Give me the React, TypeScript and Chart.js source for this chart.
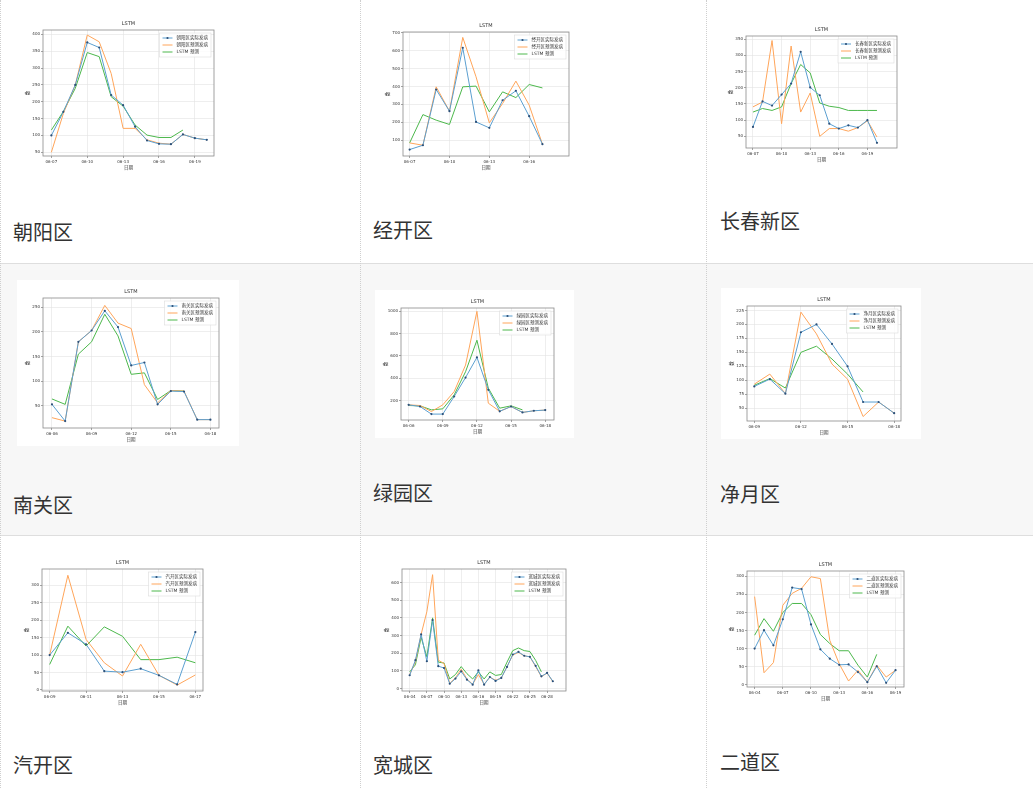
import React, { useEffect, useRef } from 'react';
import { Chart, registerables } from 'chart.js';

Chart.register(...registerables);

// ---------------- data ----------------
const cyDates = ['06-07','06-08','06-09','06-10','06-11','06-12','06-13','06-14','06-15','06-16','06-17','06-18','06-19','06-20'];
const cyActual = [100,170,250,376,361,220,190,126,85,75,74,103,92,87];
const cyPred = [50,165,250,398,378,284,121,121,87,77,74,103,92,87];
const cyLstm = [116,171,240,346,334,215,187,131,101,94,94,116,null,null];
const cyYTicks = [50,100,150,200,250,300,350,400];

const jkDates = ['06-07','06-08','06-09','06-10','06-11','06-12','06-13','06-14','06-15','06-16','06-17'];
const jkActual = [48,72,383,262,616,202,169,323,376,234,78];
const jkPred = [85,72,398,262,674,454,197,305,430,296,78];
const jkLstm = [85,243,212,188,398,402,258,370,338,411,392];
const jkYTicks = [100,200,300,400,500,600,700];

const ccDates = ['06-07','06-08','06-09','06-10','06-11','06-12','06-13','06-14','06-15','06-16','06-17','06-18','06-19','06-20'];
const ccActual = [79,158,145,179,213,311,201,177,89,74,84,77,100,30];
const ccPred = [141,156,346,89,329,125,184,50,74,74,66,77,98,48];
const ccLstm = [125,136,130,141,213,272,246,153,143,139,130,130,130,130];
const ccYTicks = [50,100,150,200,250,300,350];

const ngDates = ['06-06','06-07','06-08','06-09','06-10','06-11','06-12','06-13','06-14','06-15','06-16','06-17','06-18'];
const ngActual = [53,19,180,203,243,210,132,138,53,80,79,22,22];
const ngPred = [26,19,180,203,254,218,207,93,56,81,80,22,22];
const ngLstm = [64,53,155,180,236,192,114,117,63,81,80,null,null];
const ngYTicks = [50,100,150,200,250];

const lyDates = ['06-06','06-07','06-08','06-09','06-10','06-11','06-12','06-13','06-14','06-15','06-16','06-17','06-18'];
const lyActual = [161,146,78,78,236,406,587,296,103,146,93,108,114];
const lyPred = [161,155,101,161,280,518,1000,176,103,146,93,108,114];
const lyLstm = [155,152,116,125,250,458,741,311,131,152,116,null,null];
const lyYTicks = [200,400,600,800,1000];

const jyDates = ['06-09','06-10','06-11','06-12','06-13','06-14','06-15','06-16','06-17','06-18'];
const jyActual = [89,102,76,186,200,165,125,61,61,41];
const jyPred = [93,111,76,222,183,129,102,35,61,41];
const jyLstm = [91,103,86,150,161,138,111,79,null,null];
const jyYTicks = [50,75,100,125,150,175,200,225];

const qkDates = ['06-09','06-10','06-11','06-12','06-13','06-14','06-15','06-16','06-17'];
const qkActual = [100,164,131,54,51,61,42,16,166];
const qkPred = [100,329,145,78,40,131,42,14,43];
const qkLstm = [73,183,126,181,154,87,87,94,78];
const qkYTicks = [0,50,100,150,200,250,300];

const kcDates = ['06-04','06-05','06-06','06-07','06-08','06-09','06-10','06-11','06-12','06-13','06-14','06-15','06-16','06-17','06-18','06-19','06-20','06-21','06-22','06-23','06-24','06-25','06-26','06-27','06-28','06-29'];
const kcActual = [76,161,307,155,388,127,117,28,57,98,51,23,104,23,66,44,61,123,193,208,186,180,129,70,89,42];
const kcPred = [80,152,307,435,644,161,142,30,62,110,55,25,80,25,65,48,60,125,190,205,185,180,125,68,88,40];
const kcLstm = [95,135,290,180,400,150,145,55,80,125,85,55,95,55,95,75,80,150,215,230,215,210,160,95,null,null];
const kcYTicks = [0,100,200,300,400,500,600];

const edDates = ['06-04','06-05','06-06','06-07','06-08','06-09','06-10','06-11','06-12','06-13','06-14','06-15','06-16','06-17','06-18','06-19'];
const edActual = [100,151,109,181,269,265,167,98,72,55,56,35,7,51,5,40];
const edPred = [244,33,61,220,253,267,299,294,123,58,10,40,7,54,21,40];
const edLstm = [137,183,148,200,225,225,194,139,114,94,94,54,21,84,null,null];
const edYTicks = [0,50,100,150,200,250,300];

// ---------------- panels (data refs + layout) ----------------
type Panel = {
  name: string; dates: string[]; actual: (number|null)[]; pred: (number|null)[]; lstm: (number|null)[];
  yTicks: number[]; xTickIdx: number[]; xRange: [number, number]; yRange: [number, number];
  plot: [number, number, number, number]; caption: [number, number];
};

const PANELS: Panel[] = [
  { name: '朝阳区', dates: cyDates, actual: cyActual, pred: cyPred, lstm: cyLstm, yTicks: cyYTicks, xTickIdx: [0,3,6,9,12], xRange: [-0.7, 13.6], yRange: [39, 413], plot: [43,30,214,156], caption: [13,233] },
  { name: '经开区', dates: jkDates, actual: jkActual, pred: jkPred, lstm: jkLstm, yTicks: jkYTicks, xTickIdx: [0,3,6,9], xRange: [-0.5, 12.0], yRange: [12, 704], plot: [403,32,569,156], caption: [373,231] },
  { name: '长春新区', dates: ccDates, actual: ccActual, pred: ccPred, lstm: ccLstm, yTicks: ccYTicks, xTickIdx: [0,3,6,9,12], xRange: [-0.73, 15.1], yRange: [14, 360], plot: [746,36,897,148], caption: [720,222] },
  { name: '南关区', dates: ngDates, actual: ngActual, pred: ngPred, lstm: ngLstm, yTicks: ngYTicks, xTickIdx: [0,3,6,9,12], xRange: [-0.68, 12.65], yRange: [5, 269], plot: [43,298,219,428], caption: [13,506] },
  { name: '绿园区', dates: lyDates, actual: lyActual, pred: lyPred, lstm: lyLstm, yTicks: lyYTicks, xTickIdx: [0,3,6,9,12], xRange: [-0.67, 12.77], yRange: [25, 1030], plot: [401,308,554,420], caption: [373,494] },
  { name: '净月区', dates: jyDates, actual: jyActual, pred: jyPred, lstm: jyLstm, yTicks: jyYTicks, xTickIdx: [0,3,6,9], xRange: [-0.47, 9.44], yRange: [27, 233], plot: [747,306,901,421], caption: [720,495] },
  { name: '汽开区', dates: qkDates, actual: qkActual, pred: qkPred, lstm: qkLstm, yTicks: qkYTicks, xTickIdx: [0,2,4,6,8], xRange: [-0.42, 8.42], yRange: [-3, 347], plot: [42,569,203,691], caption: [13,766] },
  { name: '宽城区', dates: kcDates, actual: kcActual, pred: kcPred, lstm: kcLstm, yTicks: kcYTicks, xTickIdx: [0,3,6,9,12,15,18,21,24], xRange: [-1.34, 27.3], yRange: [-13, 676], plot: [402,569,566,691], caption: [373,766] },
  { name: '二道区', dates: edDates, actual: edActual, pred: edPred, lstm: edLstm, yTicks: edYTicks, xTickIdx: [0,3,6,9,12,15], xRange: [-0.81, 15.9], yRange: [-6.5, 315], plot: [747,571,904,687], caption: [720,763] },
];

const FONT = '"DejaVu Sans", "Noto Sans CJK SC", sans-serif';
const BLUE = '#5b9fd0';
const ORANGE = '#ffa55a';
const GREEN = '#4cb84c';

const mplPlugin = {
  id: 'mplFrame',
  afterDraw(chart: any, _args: any, opts: any) {
    const { ctx, chartArea: a } = chart;
    ctx.save();
    ctx.strokeStyle = '#8a8a8a';
    ctx.lineWidth = 0.8;
    ctx.strokeRect(a.left, a.top, a.right - a.left, a.bottom - a.top);
    ctx.fillStyle = '#333';
    ctx.font = `5px ${FONT}`;
    ctx.textAlign = 'center';
    ctx.textBaseline = 'middle';
    ctx.fillText(opts.title, (a.left + a.right) / 2, a.top - 6);
    const items = opts.items as { label: string; color: string; marker: boolean }[];
    const fs = 4.5;
    ctx.font = `${fs}px ${FONT}`;
    let tw = 0;
    items.forEach((it) => { tw = Math.max(tw, ctx.measureText(it.label).width); });
    const rowH = 7;
    const boxW = 3 + 10 + 4 + tw + 3;
    const boxH = items.length * rowH + 3;
    const x0 = a.right - 3 - boxW;
    const y0 = a.top + 3;
    ctx.fillStyle = 'rgba(255,255,255,0.85)';
    ctx.fillRect(x0, y0, boxW, boxH);
    ctx.strokeStyle = '#dcdcdc';
    ctx.lineWidth = 0.6;
    ctx.strokeRect(x0, y0, boxW, boxH);
    items.forEach((it, i) => {
      const cy = y0 + 1.5 + rowH * i + rowH / 2;
      ctx.strokeStyle = it.color;
      ctx.lineWidth = 1;
      ctx.beginPath();
      ctx.moveTo(x0 + 3, cy);
      ctx.lineTo(x0 + 13, cy);
      ctx.stroke();
      if (it.marker) {
        ctx.fillStyle = '#2c4f78';
        ctx.beginPath();
        ctx.arc(x0 + 8, cy, 1.1, 0, Math.PI * 2);
        ctx.fill();
      }
      ctx.fillStyle = '#333';
      ctx.textAlign = 'left';
      ctx.textBaseline = 'middle';
      ctx.fillText(it.label, x0 + 17, cy);
    });
    ctx.restore();
  },
};

function toPoints(vals: (number | null)[]) {
  return vals.map((v, i) => ({ x: i, y: v }));
}

function buildConfig(p: Panel): any {
  const tickFont = { size: 4, family: FONT };
  const grid = { color: '#e2e2e2', lineWidth: 0.6, tickLength: 2, tickColor: '#666', drawTicks: true };
  return {
    type: 'line',
    data: {
      datasets: [
        { label: `${p.name}实际发病`, data: toPoints(p.actual), borderColor: BLUE, borderWidth: 1, pointRadius: 1.1, pointBackgroundColor: '#2c4f78', pointBorderWidth: 0, tension: 0, spanGaps: false },
        { label: `${p.name}预测发病`, data: toPoints(p.pred), borderColor: ORANGE, borderWidth: 1, pointRadius: 0, tension: 0, spanGaps: false },
        { label: 'LSTM 预测', data: toPoints(p.lstm), borderColor: GREEN, borderWidth: 1, pointRadius: 0, tension: 0, spanGaps: false },
      ],
    },
    options: {
      animation: false,
      responsive: false,
      maintainAspectRatio: false,
      devicePixelRatio: 1,
      layout: { padding: { top: 18, right: 20, left: 0, bottom: 0 } },
      plugins: {
        legend: { display: false },
        title: { display: false },
        tooltip: { enabled: false },
        mplFrame: {
          title: 'LSTM',
          items: [
            { label: `${p.name}实际发病`, color: BLUE, marker: true },
            { label: `${p.name}预测发病`, color: ORANGE, marker: false },
            { label: 'LSTM 预测', color: GREEN, marker: false },
          ],
        },
      },
      scales: {
        x: {
          type: 'linear',
          min: p.xRange[0],
          max: p.xRange[1],
          afterBuildTicks: (s: any) => { s.ticks = p.xTickIdx.map((v) => ({ value: v })); },
          afterFit: (s: any) => { s.height = 18; },
          ticks: { callback: (v: any) => p.dates[v] ?? '', font: tickFont, color: '#333', padding: 1.5, maxRotation: 0, autoSkip: false },
          grid,
          border: { display: false },
          title: { display: true, text: '日期', font: { size: 4.5, family: FONT }, color: '#333', padding: { top: 0, bottom: 3 } },
        },
        y: {
          type: 'linear',
          min: p.yRange[0],
          max: p.yRange[1],
          afterBuildTicks: (s: any) => { s.ticks = p.yTicks.map((v) => ({ value: v })); },
          afterFit: (s: any) => { s.width = 26; },
          ticks: { callback: (v: any) => String(v), font: tickFont, color: '#333', padding: 1, autoSkip: false },
          grid,
          border: { display: false },
          title: { display: true, text: '数', font: { size: 4.5, family: FONT }, color: '#333', padding: { top: 8, bottom: 0 } },
        },
      },
    },
    plugins: [mplPlugin],
  };
}

function ChartPanel({ p }: { p: Panel }) {
  const ref = useRef<HTMLCanvasElement>(null);
  useEffect(() => {
    const chart = new Chart(ref.current as HTMLCanvasElement, buildConfig(p));
    return () => chart.destroy();
  }, [p]);
  const [l, t, r, b] = p.plot;
  const W = r - l + 46;
  const H = b - t + 36;
  return (
    <canvas
      ref={ref}
      width={W}
      height={H}
      style={{ position: 'absolute', left: l - 26, top: t - 18, width: W, height: H, background: '#fff' }}
    />
  );
}

export default function App() {
  return (
    <div style={{ position: 'absolute', left: 0, top: 0, width: 1033, height: 788, background: '#fff', overflow: 'hidden', fontFamily: '"Noto Sans CJK SC", sans-serif' }}>
      <div style={{ position: 'absolute', left: 0, top: 264, width: 1033, height: 271, background: '#f7f7f7' }} />
      <div style={{ position: 'absolute', left: 0, top: 263, width: 1033, height: 0, borderTop: '1px solid #dedede' }} />
      <div style={{ position: 'absolute', left: 0, top: 535, width: 1033, height: 0, borderTop: '1px solid #dedede' }} />
      {[0, 360, 706].map((x) => (
        <div key={x} style={{ position: 'absolute', left: x, top: 0, width: 0, height: 788, borderLeft: '1px dotted #cfcfcf' }} />
      ))}
      {PANELS.map((p) => (
        <ChartPanel key={p.name} p={p} />
      ))}
      {PANELS.map((p) => (
        <div
          key={p.name + '-cap'}
          style={{ position: 'absolute', left: p.caption[0], top: p.caption[1] - 11, fontSize: 20, lineHeight: '20px', color: '#333', whiteSpace: 'nowrap' }}
        >
          {p.name}
        </div>
      ))}
    </div>
  );
}
